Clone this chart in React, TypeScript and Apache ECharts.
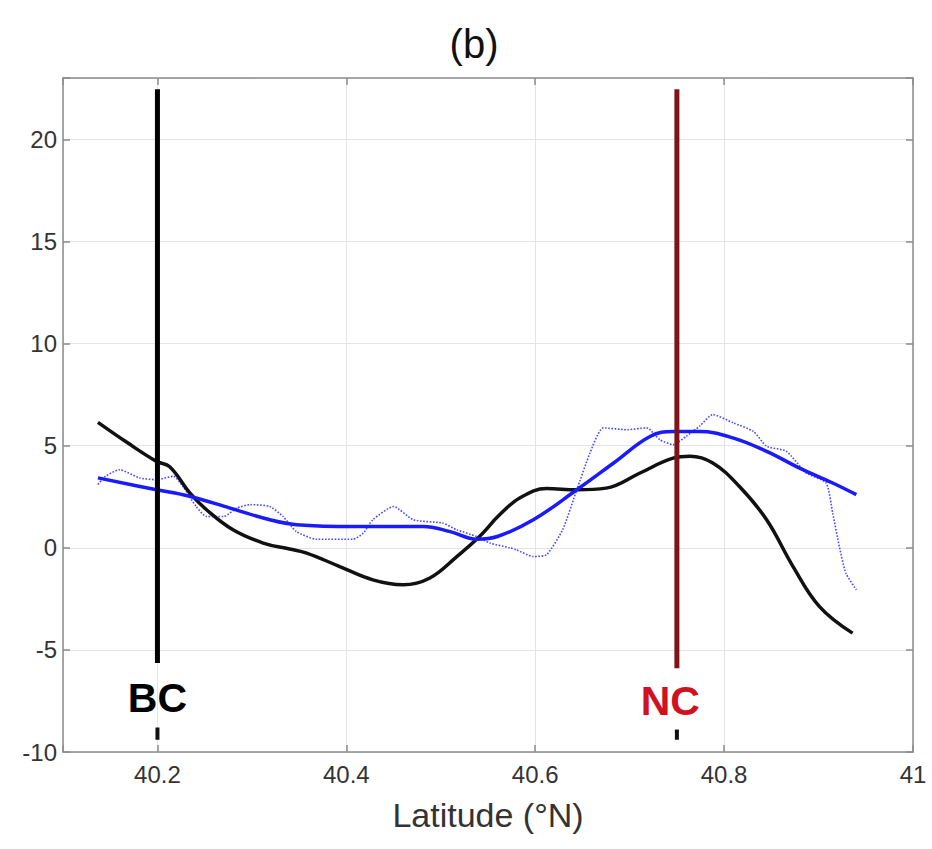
import React, { useEffect, useRef } from 'react';
import * as echarts from 'echarts';

const xTickLabels = [40.2, 40.4, 40.6, 40.8, 41];
const yTickLabels = [-10, -5, 0, 5, 10, 15, 20];

const blackLat = [40.137, 40.168, 40.199, 40.213, 40.234, 40.252, 40.28, 40.312, 40.34, 40.358, 40.393, 40.428, 40.46, 40.488, 40.517, 40.541, 40.562, 40.584, 40.612, 40.644, 40.675, 40.711, 40.746, 40.764, 40.788, 40.816, 40.845, 40.873, 40.901, 40.936];
const blackVal = [6.14, 5.15, 4.23, 3.97, 2.7, 1.86, 0.88, 0.23, -0.06, -0.26, -0.92, -1.57, -1.81, -1.49, -0.43, 0.55, 1.6, 2.45, 2.9, 2.84, 2.92, 3.66, 4.39, 4.48, 4.15, 3.01, 1.37, -0.92, -2.88, -4.18];

const blueLat = [40.137, 40.199, 40.234, 40.277, 40.319, 40.347, 40.411, 40.481, 40.51, 40.538, 40.56, 40.598, 40.644, 40.683, 40.722, 40.746, 40.774, 40.81, 40.845, 40.88, 40.915, 40.94];
const blueVal = [3.42, 2.84, 2.52, 1.94, 1.37, 1.13, 1.04, 1.04, 0.79, 0.42, 0.55, 1.37, 2.84, 4.15, 5.46, 5.69, 5.69, 5.37, 4.72, 3.9, 3.17, 2.6];

const dotLat = [40.137, 40.145, 40.16, 40.181, 40.199, 40.217, 40.227, 40.241, 40.252, 40.27, 40.284, 40.298, 40.319, 40.333, 40.347, 40.368, 40.407, 40.418, 40.428, 40.45, 40.471, 40.502, 40.517, 40.538, 40.552, 40.573, 40.58, 40.598, 40.612, 40.629, 40.644, 40.658, 40.672, 40.697, 40.718, 40.732, 40.746, 40.76, 40.774, 40.788, 40.81, 40.831, 40.845, 40.866, 40.887, 40.908, 40.915, 40.922, 40.929, 40.94];
const dotVal = [3.1, 3.5, 3.82, 3.42, 3.33, 3.5, 3.0, 2.02, 1.53, 1.53, 1.94, 2.11, 2.02, 1.53, 0.8, 0.42, 0.42, 0.72, 1.37, 2.02, 1.37, 1.21, 0.88, 0.55, 0.23, 0.0, -0.1, -0.43, -0.34, 0.88, 2.84, 4.64, 5.87, 5.78, 5.87, 5.29, 5.05, 5.46, 5.95, 6.52, 6.11, 5.7, 4.97, 4.72, 3.66, 3.17, 1.69, 0.06, -1.25, -2.06];

const markerNames = ['BC', 'NC'];
const markerLat = [40.2, 40.75];
const markerTop = [22.45, 22.45];
const markerBottom = [-5.64, -5.9];
const markerLabelLat = [40.2, 40.743];
const markerLabelVal = [-7.35, -7.5];
const markerDashTop = [-8.8, -8.9];
const markerDashBottom = [-9.4, -9.4];
const markerLineColors = ['#000000', '#7f1418'];
const markerTextColors = ['#000000', '#d0111f'];

const FONT = '"Liberation Sans", Arial, sans-serif';

const zip = (a: number[], b: number[]) => a.map((v, i) => [v, b[i]]);

export default function App() {
  const ref = useRef<HTMLDivElement>(null);
  useEffect(() => {
    document.body.style.margin = '0';
    const chart = echarts.init(ref.current!, undefined, { renderer: 'svg' });
    const markerSeries: any[] = [];
    markerNames.forEach((name, i) => {
      markerSeries.push({
        type: 'line',
        data: [[markerLat[i], markerTop[i]], [markerLat[i], markerBottom[i]]],
        symbol: 'none',
        lineStyle: { color: markerLineColors[i], width: 5 },
        z: 5,
      });
      markerSeries.push({
        type: 'line',
        data: [[markerLat[i], markerDashTop[i]], [markerLat[i], markerDashBottom[i]]],
        symbol: 'none',
        lineStyle: { color: '#111', width: 4 },
        z: 5,
      });
      markerSeries.push({
        type: 'scatter',
        data: [[markerLabelLat[i], markerLabelVal[i]]],
        symbolSize: 0,
        itemStyle: { opacity: 1, color: markerTextColors[i] },
        label: {
          show: true,
          position: 'inside',
          formatter: name,
          fontFamily: FONT,
          fontWeight: 'bold',
          fontSize: 41,
          color: markerTextColors[i],
          opacity: 1,
        },
        emphasis: { disabled: true },
        z: 6,
      });
    });

    const axisLineStyle = { color: '#8c8c8c', width: 1.5 };
    chart.setOption({
      animation: false,
      backgroundColor: '#ffffff',
      grid: { left: 63, right: 19, top: 78, bottom: 97 },
      graphic: [
        {
          type: 'text',
          x: 474,
          y: 44,
          style: {
            text: '(b)',
            fontFamily: FONT,
            fontSize: 40,
            fill: '#111',
            textAlign: 'center',
            textVerticalAlign: 'middle',
          },
        },
      ],
      xAxis: [
        {
          type: 'value',
          min: 40.1,
          max: 41,
          splitNumber: 5,
          name: 'Latitude (°N)',
          nameLocation: 'middle',
          nameGap: 46,
          nameTextStyle: { fontFamily: FONT, fontSize: 34, color: '#333' },
          axisLine: { show: true, onZero: false, lineStyle: axisLineStyle },
          axisTick: { show: true, inside: true, length: 7, lineStyle: axisLineStyle },
          axisLabel: {
            fontFamily: FONT,
            fontSize: 24,
            color: '#333',
            margin: 10,
            formatter: (v: number) => (xTickLabels.some((t) => Math.abs(t - v) < 1e-6) ? String(+v.toFixed(1)) : ''),
          },
          splitLine: { show: true, lineStyle: { color: '#e4e4e4', width: 1 } },
        },
        {
          type: 'value',
          position: 'top',
          min: 40.1,
          max: 41,
          splitNumber: 5,
          axisLine: { show: true, onZero: false, lineStyle: axisLineStyle },
          axisTick: { show: true, inside: true, length: 7, lineStyle: axisLineStyle },
          axisLabel: { show: false },
          splitLine: { show: false },
        },
      ],
      yAxis: [
        {
          type: 'value',
          min: -10,
          max: 23,
          interval: 5,
          axisLine: { show: true, onZero: false, lineStyle: axisLineStyle },
          axisTick: { show: true, inside: true, length: 7, lineStyle: axisLineStyle },
          axisLabel: {
            fontFamily: FONT,
            fontSize: 24,
            color: '#333',
            margin: 6,
            formatter: (v: number) => (yTickLabels.includes(v) ? String(v) : ''),
          },
          splitLine: { show: true, lineStyle: { color: '#e4e4e4', width: 1 } },
        },
        {
          type: 'value',
          position: 'right',
          min: -10,
          max: 23,
          interval: 5,
          axisLine: { show: true, onZero: false, lineStyle: axisLineStyle },
          axisTick: { show: true, inside: true, length: 7, lineStyle: axisLineStyle },
          axisLabel: { show: false },
          splitLine: { show: false },
        },
      ],
      series: [
        {
          type: 'line',
          data: zip(dotLat, dotVal),
          symbol: 'none',
          smooth: 0.2,
          lineStyle: { color: '#4a4aff', width: 1.6, type: 'dotted' },
          z: 2,
        },
        {
          type: 'line',
          data: zip(blackLat, blackVal),
          symbol: 'none',
          smooth: 0.4,
          lineStyle: { color: '#111111', width: 3.5 },
          z: 3,
        },
        {
          type: 'line',
          data: zip(blueLat, blueVal),
          symbol: 'none',
          smooth: 0.4,
          lineStyle: { color: '#1a1aff', width: 3.5 },
          z: 4,
        },
        ...markerSeries,
      ],
    });
    return () => chart.dispose();
  }, []);
  return <div ref={ref} style={{ width: 932, height: 849 }} />;
}
